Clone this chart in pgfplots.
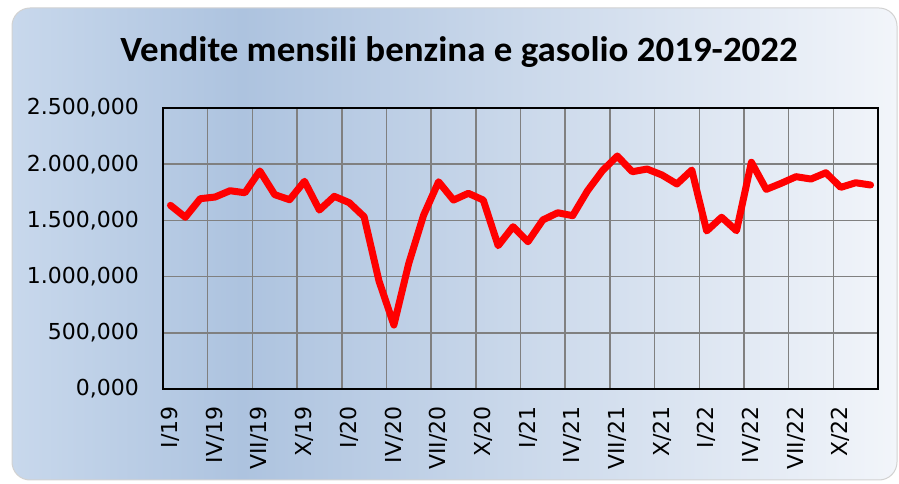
\documentclass[border=0pt]{standalone}
\usepackage{pgfplots}
\pgfplotsset{compat=1.18}
\usepackage{pgfplotstable}
\usepackage{fontspec}
\setmainfont{DejaVu Sans}
\newfontfamily\titlefont{Carlito}
\definecolor{bgA}{HTML}{C8D8EC}
\definecolor{bgB}{HTML}{ADC3DF}
\definecolor{bgC}{HTML}{F2F5FA}
\definecolor{gridgray}{HTML}{808080}
\pgfdeclarehorizontalshading{bgshade}{100bp}{color(0bp)=(bgA); color(25bp)=(bgA); color(38bp)=(bgB); color(75bp)=(bgC); color(100bp)=(bgC)}

\pgfplotstableread{
x y
0.5 1634000
1.5 1528000
2.5 1693000
3.5 1708000
4.5 1764000
5.5 1746000
6.5 1940000
7.5 1729000
8.5 1684000
9.5 1848000
10.5 1592000
11.5 1714000
12.5 1658000
13.5 1533000
14.5 961000
15.5 569000
16.5 1118000
17.5 1548000
18.5 1844000
19.5 1681000
20.5 1741000
21.5 1681000
22.5 1275000
23.5 1444000
24.5 1310000
25.5 1504000
26.5 1568000
27.5 1542000
28.5 1764000
29.5 1942000
30.5 2073000
31.5 1933000
32.5 1957000
33.5 1904000
34.5 1824000
35.5 1948000
36.5 1406000
37.5 1528000
38.5 1408000
39.5 2017000
40.5 1776000
41.5 1830000
42.5 1889000
43.5 1868000
44.5 1924000
45.5 1794000
46.5 1835000
47.5 1815000
}\sales

\begin{document}
\begin{tikzpicture}
\useasboundingbox (0bp,0bp) rectangle (899bp,484bp);
\fill[white] (0bp,0bp) rectangle (899bp,484bp);
\shade[shading=bgshade, draw=gray!35, line width=1bp, rounded corners=18bp] (12bp,4bp) rectangle (897bp,476bp);
\node[anchor=base, inner sep=0pt, xscale=1.04, font=\titlefont\bfseries\fontsize{35.5bp}{40bp}\selectfont] at (459bp,422bp) {Vendite mensili benzina e gasolio 2019-2022};
\begin{axis}[
  at={(163bp,95bp)}, anchor=south west,
  scale only axis, width=715bp, height=281bp,
  xmin=0, xmax=48, ymin=0, ymax=2500000,
  axis line style={black, line width=2bp},
  scaled y ticks=false,
  ytick={0,500000,1000000,1500000,2000000,2500000},
  yticklabels={{0,000},{500,000},{1.000,000},{1.500,000},{2.000,000},{2.500,000}},
  xtick={0.5,3.5,...,45.5},
  xticklabels={I/19,IV/19,VII/19,X/19,I/20,IV/20,VII/20,X/20,I/21,IV/21,VII/21,X/21,I/22,IV/22,VII/22,X/22},
  minor xtick={3,6,...,45},
  xminorgrids=true, ymajorgrids=true, xmajorgrids=false,
  grid style={gridgray, line width=1.5bp},
  minor grid style={gridgray, line width=1.5bp},
  major tick length=0pt, minor tick length=0pt,
  tick label style={font=\fontsize{22bp}{26bp}\selectfont, inner sep=0pt},
  xticklabel style={rotate=90, anchor=east},
  yticklabel style={anchor=east},
  xticklabel shift=17bp,
  yticklabel shift=24bp,
  clip=false,
]
\addplot[red, line width=7bp, line join=round, line cap=round] table[x=x, y=y] {\sales};
\end{axis}
\end{tikzpicture}
\end{document}
